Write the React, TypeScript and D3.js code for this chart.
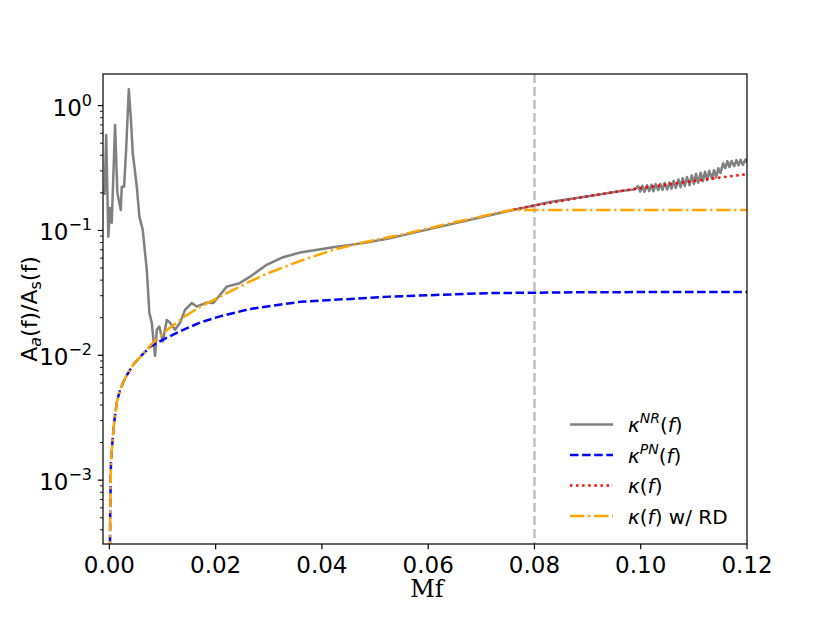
import React from "react";
import * as d3 from "d3";

// NR amplitude ratio (noisy at low Mf, wiggles at high Mf)
const nrCurve: [number, number][] = [
  [-0.0009, 0.192], [-0.0006, 0.58], [-0.0002, 0.089], [0.00013, 0.151],
  [0.00045, 0.115], [0.00107, 0.7], [0.0015, 0.2], [0.00214, 0.146],
  [0.00233, 0.224], [0.00277, 0.224], [0.00315, 0.44], [0.00365, 1.35],
  [0.00403, 0.81], [0.0044, 0.417], [0.00516, 0.224], [0.00564, 0.129],
  [0.00628, 0.101], [0.00704, 0.0483], [0.00753, 0.0218], [0.00798, 0.0182],
  [0.0086, 0.0099], [0.00892, 0.016], [0.0094, 0.017], [0.01005, 0.0129],
  [0.0108, 0.0192], [0.01142, 0.0182], [0.01236, 0.016], [0.0133, 0.0182],
  [0.01424, 0.0231], [0.0155, 0.0262], [0.01644, 0.0246], [0.01833, 0.0264],
  [0.01957, 0.0262], [0.0221, 0.0355], [0.0245, 0.0378], [0.0265, 0.0427],
  [0.0296, 0.053], [0.0327, 0.061], [0.0359, 0.0665], [0.0421, 0.0734],
  [0.0453, 0.0766], [0.0484, 0.08], [0.0528, 0.0866], [0.0547, 0.0904],
  [0.0654, 0.115], [0.076, 0.146], [0.0829, 0.169], [0.0904, 0.189],
  [0.096, 0.206], [0.099, 0.214],
  [0.0995, 0.227], [0.0999, 0.205], [0.1003, 0.228], [0.1007, 0.204],
  [0.1012, 0.23], [0.1016, 0.207], [0.102, 0.232], [0.1024, 0.206],
  [0.1028, 0.235], [0.1033, 0.21], [0.1037, 0.236], [0.1041, 0.211],
  [0.1045, 0.24], [0.105, 0.213], [0.1054, 0.242], [0.1058, 0.216],
  [0.1062, 0.25], [0.1066, 0.219], [0.1071, 0.256], [0.1075, 0.222],
  [0.1079, 0.262], [0.1083, 0.226], [0.1087, 0.268], [0.1092, 0.23],
  [0.1096, 0.276], [0.11, 0.236], [0.1104, 0.284], [0.1108, 0.241],
  [0.1113, 0.29], [0.1117, 0.248], [0.1121, 0.295], [0.1125, 0.254],
  [0.1129, 0.3], [0.1134, 0.26], [0.1138, 0.304], [0.1142, 0.266],
  [0.1146, 0.315], [0.115, 0.288], [0.1155, 0.345], [0.1159, 0.315],
  [0.1163, 0.358], [0.1167, 0.322], [0.1171, 0.36], [0.1176, 0.327],
  [0.118, 0.366], [0.1184, 0.332], [0.1188, 0.368], [0.1192, 0.335],
  [0.1197, 0.37], [0.12, 0.35],
];

// PN model
const pnCurve: [number, number][] = [
  [0.0001, 0.00025], [0.00015, 0.0005], [0.0003, 0.0014], [0.0006, 0.0021],
  [0.0009, 0.0029], [0.0014, 0.0042], [0.002, 0.0053], [0.003, 0.0066],
  [0.0045, 0.0084], [0.0058, 0.0097], [0.00766, 0.0117], [0.01, 0.0133],
  [0.0139, 0.016], [0.0171, 0.0183], [0.0208, 0.0205], [0.0265, 0.0235],
  [0.0359, 0.0268], [0.0528, 0.0295], [0.0716, 0.0315], [0.0904, 0.032],
  [0.12, 0.0322],
];

// full model (visible past the RD split)
const kappaCurve: [number, number][] = [
  [0.076, 0.147], [0.08, 0.158], [0.0904, 0.189], [0.1, 0.219],
  [0.11, 0.249], [0.12, 0.282],
];

// model with ringdown cap
const rdCurve: [number, number][] = [
  [0.0001, 0.00025], [0.00015, 0.0005], [0.0003, 0.0014], [0.0006, 0.0021],
  [0.0009, 0.0029], [0.0014, 0.0042], [0.002, 0.0053], [0.003, 0.0066],
  [0.0045, 0.0084], [0.0058, 0.0097], [0.0082, 0.0126], [0.0109, 0.016],
  [0.0142, 0.0205], [0.0171, 0.0245], [0.0205, 0.029], [0.0234, 0.0335],
  [0.0265, 0.039], [0.0296, 0.045], [0.0359, 0.057], [0.0421, 0.0698],
  [0.0484, 0.0813], [0.0547, 0.092], [0.0654, 0.1175], [0.076, 0.147],
  [0.077, 0.146], [0.12, 0.146],
];

const xTickValues = [0, 0.02, 0.04, 0.06, 0.08, 0.1, 0.12];
const yMajorTicks = [1e-3, 1e-2, 1e-1, 1];
const yTickExponents = ["\u22123", "\u22122", "\u22121", "0"];
const markerMf = 0.08;

const legendItems = [
  { sup: "NR", tail: "", color: "grey", dash: "none" },
  { sup: "PN", tail: "", color: "blue", dash: "8.5,3.6" },
  { sup: "", tail: "", color: "red", dash: "2.4,3.7" },
  { sup: "", tail: " w/ RD", color: "orange", dash: "14.4,3.6,2.4,3.6" },
];

const App: React.FC = () => {
  const width = 830;
  const height = 623;
  const left = 103;
  const right = 747;
  const top = 74;
  const bottom = 544;

  const x = d3.scaleLinear().domain([-0.0012, 0.12]).range([left, right]);
  const y = d3.scaleLog().domain([3.08e-4, 1.79]).range([bottom, top]);

  const line = d3
    .line<[number, number]>()
    .x((d) => x(d[0]))
    .y((d) => y(d[1]));

  const minorTicks = y
    .ticks()
    .filter((t) => !yMajorTicks.some((m) => Math.abs(m - t) / m < 1e-6));

  const lw = 2.5;
  const font = "DejaVu Sans, sans-serif";

  return (
    <svg
      width={width}
      height={height}
      style={{ position: "absolute", left: 0, top: 0, background: "white" }}
      fontFamily={font}
    >
      <defs>
        <clipPath id="plot">
          <rect x={left} y={top} width={right - left} height={bottom - top} />
        </clipPath>
      </defs>

      <g clipPath="url(#plot)" fill="none" strokeWidth={lw}>
        <line
          x1={x(markerMf)}
          x2={x(markerMf)}
          y1={top}
          y2={bottom}
          stroke="grey"
          strokeOpacity={0.5}
          strokeDasharray="9,4"
        />
        <path d={line(nrCurve) ?? ""} stroke="grey" strokeLinejoin="round" />
        <path d={line(pnCurve) ?? ""} stroke="blue" strokeDasharray="8.5,3.6" />
        <path d={line(kappaCurve) ?? ""} stroke="red" strokeDasharray="2.4,3.7" />
        <path
          d={line(rdCurve) ?? ""}
          stroke="orange"
          strokeDasharray="14.4,3.6,2.4,3.6"
        />
      </g>

      {/* frame */}
      <rect
        x={left}
        y={top}
        width={right - left}
        height={bottom - top}
        fill="none"
        stroke="black"
        strokeWidth={1.2}
      />

      {/* x axis */}
      {xTickValues.map((t) => (
        <g key={t}>
          <line x1={x(t)} x2={x(t)} y1={bottom} y2={bottom + 5.25} stroke="black" strokeWidth={1.2} />
          <text x={x(t)} y={bottom + 28.5} textAnchor="middle" fontSize={23}>
            {d3.format(".2f")(t)}
          </text>
        </g>
      ))}
      <text
        x={(left + right) / 2 + 2}
        y={597}
        textAnchor="middle"
        fontSize={24}
        fontFamily="DejaVu Serif, serif"
      >
        Mf
      </text>

      {/* y axis */}
      {minorTicks.map((t) => (
        <line key={t} x1={left - 3} x2={left} y1={y(t)} y2={y(t)} stroke="black" strokeWidth={0.9} />
      ))}
      {yMajorTicks.map((t, i) => (
        <g key={t}>
          <line x1={left - 5.25} x2={left} y1={y(t)} y2={y(t)} stroke="black" strokeWidth={1.2} />
          <text x={92} y={y(t) + 10} textAnchor="end" fontSize={23}>
            10
            <tspan fontSize={16} dy={-10}>
              {yTickExponents[i]}
            </tspan>
          </text>
        </g>
      ))}
      <text
        transform={`translate(37,${(top + bottom) / 2}) rotate(-90)`}
        textAnchor="middle"
        fontSize={22}
      >
        A<tspan fontSize={16} dy={4} fontStyle="italic">a</tspan>
        <tspan dy={-4}>(f)/A</tspan>
        <tspan fontSize={16} dy={4}>s</tspan>
        <tspan dy={-4}>(f)</tspan>
      </text>

      {/* legend */}
      {legendItems.map((item, i) => {
        const ly = 424.5 + i * 30.5;
        return (
          <g key={i}>
            <line
              x1={570}
              x2={613}
              y1={ly}
              y2={ly}
              stroke={item.color}
              strokeWidth={lw}
              strokeDasharray={item.dash}
            />
            <text x={628} y={ly + 7.5} fontSize={20}>
              <tspan fontStyle="italic">{"\u03BA"}</tspan>
              {item.sup ? (
                <tspan fontSize={14} fontStyle="italic" dy={-9}>
                  {item.sup}
                </tspan>
              ) : null}
              <tspan dy={item.sup ? 9 : 0}>(</tspan>
              <tspan fontStyle="italic">f</tspan>
              <tspan>){item.tail}</tspan>
            </text>
          </g>
        );
      })}
    </svg>
  );
};

export default App;
